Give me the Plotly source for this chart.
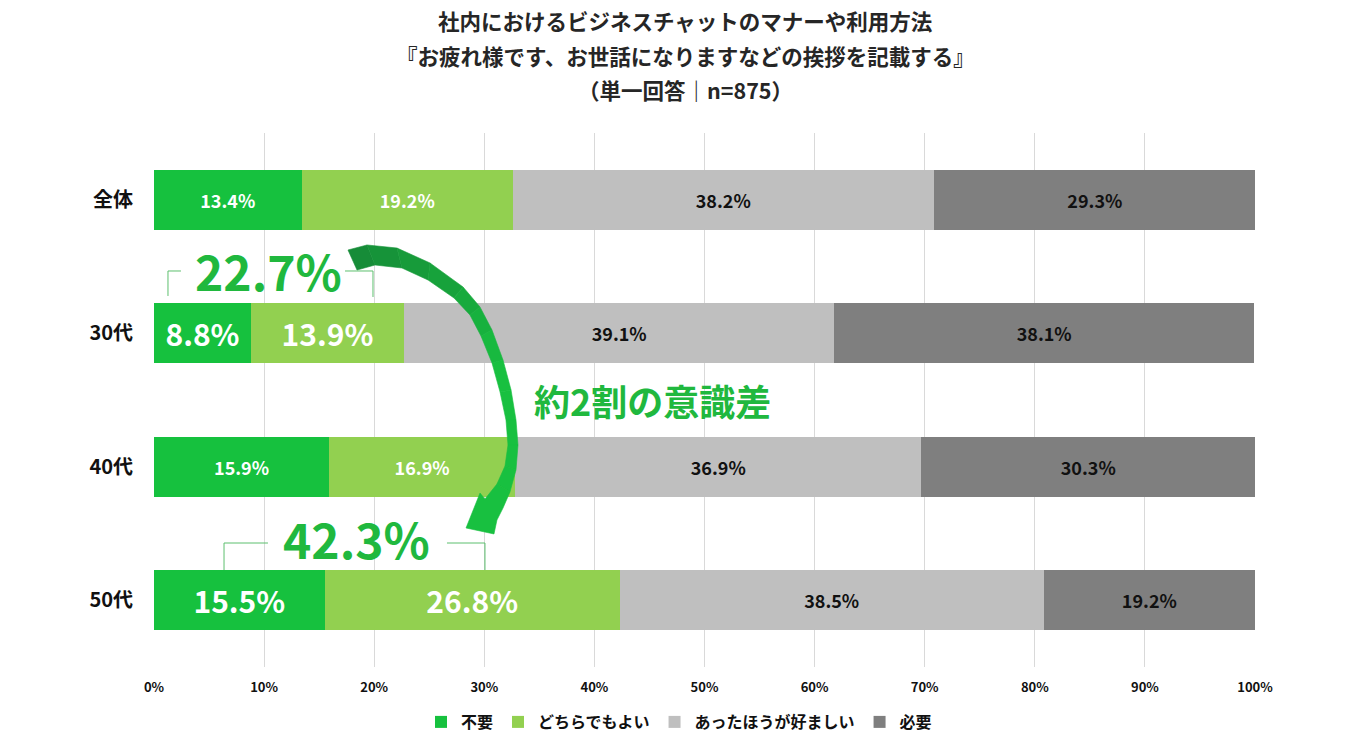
import plotly.graph_objects as go

# データ
categories = ["全体", "30代", "40代", "50代"]
series_names = ["不要", "どちらでもよい", "あったほうが好ましい", "必要"]
fuyou = [13.4, 8.8, 15.9, 15.5]
dochira = [19.2, 13.9, 16.9, 26.8]
attahou = [38.2, 39.1, 36.9, 38.5]
hitsuyou = [29.3, 38.1, 30.3, 19.2]
x_ticks = [0, 10, 20, 30, 40, 50, 60, 70, 80, 90, 100]
x_ticklabels = [f"{t}%" for t in x_ticks]

title_lines = [
    "社内におけるビジネスチャットのマナーや利用方法",
    "『お疲れ様です、お世話になりますなどの挨拶を記載する』",
    "（単一回答｜n=875）",
]
sum_30 = "22.7%"
sum_50 = "42.3%"
diff_text = "約2割の意識差"

FONT = "Noto Sans CJK JP"
GREEN = "#16C13E"
LIGHT_GREEN = "#92D050"
LIGHT_GREY = "#BFBFBF"
DARK_GREY = "#7F7F7F"
ACCENT = "#20B83E"

W, H = 1345, 742
PLOT_L, PLOT_R, PLOT_T, PLOT_B = 154, 1255, 133, 667
PW = PLOT_R - PLOT_L
PH = PLOT_B - PLOT_T


def px(x):
    return (x - PLOT_L) / PW


def py(y):
    return (PLOT_B - y) / PH


def path_of(pts, close=True):
    s = "M " + " L ".join(f"{px(a):.4f},{py(b):.4f}" for a, b in pts)
    return s + " Z" if close else s


fig = go.Figure()

big = [18, 30, 18, 30]
series = [
    (series_names[0], fuyou, GREEN, "white", big),
    (series_names[1], dochira, LIGHT_GREEN, "white", big),
    (series_names[2], attahou, LIGHT_GREY, "#111111", [18] * 4),
    (series_names[3], hitsuyou, DARK_GREY, "#111111", [18] * 4),
]
for name, vals, color, tcolor, sizes in series:
    fig.add_trace(go.Bar(
        y=categories,
        x=vals,
        name=name,
        orientation="h",
        marker=dict(color=color, line=dict(width=0)),
        texttemplate="%{x:.1f}%",
        textposition="inside",
        insidetextanchor="middle",
        textfont=dict(family=FONT, color=tcolor, size=sizes, weight="bold"),
        constraintext="none",
        hoverinfo="skip",
    ))

# タイトル
for line, yc in zip(title_lines, [20, 55, 89]):
    fig.add_annotation(
        x=px(685), y=py(yc), xref="paper", yref="paper",
        text=line, showarrow=False, xanchor="center", yanchor="middle",
        font=dict(family=FONT, size=21.5, color="#262626", weight="bold"),
    )

# 合計ラベル
for text, xc, yc, size in [(sum_30, 268, 270, 48), (sum_50, 356, 538, 48),
                           (diff_text, 652, 400, 36)]:
    fig.add_annotation(x=px(xc), y=py(yc), xref="paper", yref="paper",
                       text=text, showarrow=False,
                       xanchor="center", yanchor="middle",
                       font=dict(family=FONT, size=size, color=ACCENT, weight="bold"))

# 括弧線
brackets = [
    [(168, 296), (168, 271), (181, 271)],
    [(345, 271), (373, 271), (373, 297)],
    [(224, 570), (224, 543), (268, 543)],
    [(447, 543), (485, 543), (485, 570)],
]
for pts in brackets:
    fig.add_shape(type="path", path=path_of(pts, close=False),
                  xref="paper", yref="paper",
                  line=dict(color="#5DBF6E", width=1))

# 曲がった矢印(外側・内側の輪郭を帯状に分割してグラデーション)
arrow_outer = [(348, 250), (367, 245), (397, 248), (430, 263), (463, 287),
               (480, 307), (492, 330), (503, 360), (511, 390), (516, 420),
               (518, 445), (516, 470), (510, 492)]
arrow_inner = [(357, 270), (375, 265), (402, 268), (428, 280), (454, 298),
               (470, 315), (481, 336), (492, 363), (500, 392), (506, 420),
               (508, 445), (505, 466), (497, 484)]
arrow_head = [(510, 492), (503, 508), (497, 520), (494, 534), (466, 528),
              (480, 493), (485, 499), (497, 484)]
dark, bright = (22, 140, 56), (24, 192, 64)

n = len(arrow_outer) - 1
for i in range(n):
    t = min(1.0, i / 7)
    c = tuple(round(d + (b - d) * t) for d, b in zip(dark, bright))
    col = f"rgb{c}"
    quad = [arrow_outer[i], arrow_outer[i + 1], arrow_inner[i + 1], arrow_inner[i]]
    fig.add_shape(type="path", path=path_of(quad), xref="paper", yref="paper",
                  fillcolor=col, line=dict(color=col, width=0.6), layer="above")
col = f"rgb{bright}"
fig.add_shape(type="path", path=path_of(arrow_head), xref="paper", yref="paper",
              fillcolor=col, line=dict(color=col, width=0.6), layer="above")

fig.update_layout(
    barmode="stack",
    bargap=0.55,
    width=W,
    height=H,
    margin=dict(l=PLOT_L, r=W - PLOT_R, t=PLOT_T, b=H - PLOT_B, autoexpand=False),
    plot_bgcolor="white",
    paper_bgcolor="white",
    font=dict(family=FONT, color="#111111"),
    showlegend=True,
    legend=dict(
        orientation="h", x=px(679), xanchor="center", y=py(722), yanchor="middle",
        font=dict(family=FONT, size=16, color="#111111", weight="bold"),
        traceorder="normal",
    ),
    xaxis=dict(
        range=[0, 100], tickvals=x_ticks, ticktext=x_ticklabels,
        showgrid=True, gridcolor="#D9D9D9", gridwidth=1, zeroline=False,
        showline=False, fixedrange=True, ticks="outside", ticklen=8,
        tickcolor="rgba(0,0,0,0)",
        tickfont=dict(family=FONT, size=13, color="#111111", weight="bold"),
    ),
    yaxis=dict(
        autorange="reversed", showgrid=False, zeroline=False, showline=False,
        fixedrange=True, ticklabelstandoff=20,
        tickfont=dict(family=FONT, size=20, color="#111111", weight="bold"),
    ),
)

# ページの余白をなくして図をウィンドウ全体に合わせる
fig.write_html("out.html", config={"displayModeBar": False},
               post_script="document.body.style.margin='0';")
